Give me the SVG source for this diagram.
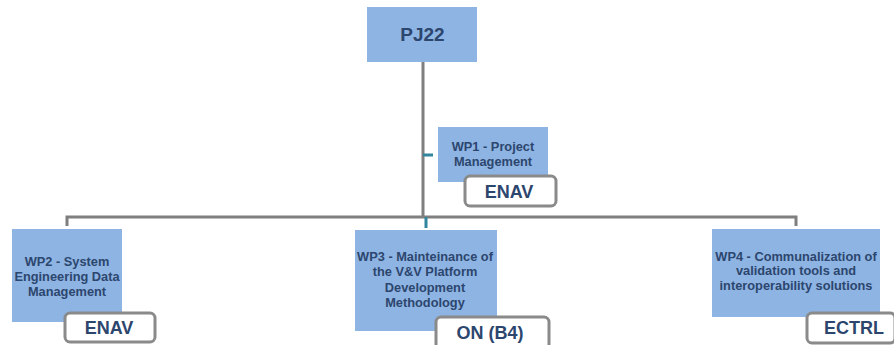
<svg xmlns="http://www.w3.org/2000/svg" width="894" height="345" viewBox="0 0 894 345">
<style>
.box{fill:#8eb4e3;stroke:none}
.tag{fill:#ffffff;stroke:#8a8a8a;stroke-width:3}
.t{font-family:"Liberation Sans",Arial,sans-serif;font-size:12.8px;font-weight:bold;fill:#2c466e;text-anchor:middle}
.tt{font-family:"Liberation Sans",Arial,sans-serif;font-size:18px;font-weight:bold;fill:#2c466e;text-anchor:middle}
.ln{stroke:#7f7f7f;stroke-width:3;fill:none}
.tk{stroke:#31859c;stroke-width:3;fill:none}
</style>
<rect width="894" height="345" fill="#ffffff"/>
<g id="connectors">
<path class="ln" d="M423,62 V217"/>
<path class="ln" d="M67,226 V217 H796 V226"/>
<path class="tk" d="M423,155 H433"/>
<path class="tk" d="M426,217 V228"/>
</g>
<g id="pj22">
<rect class="box" x="367" y="7" width="110" height="55"/>
<text class="tt" x="422.5" y="41" style="font-size:19px">PJ22</text>
</g>
<g id="wp1">
<rect class="box" x="438" y="127" width="110" height="55"/>
<text class="t" x="493" y="151">WP1 - Project</text>
<text class="t" x="493" y="166">Management</text>
<rect class="tag" x="465" y="176" width="91" height="30" rx="5"/>
<text class="tt" x="509" y="198">ENAV</text>
</g>
<g id="wp2">
<rect class="box" x="12" y="229" width="110" height="93"/>
<text class="t" x="67" y="266">WP2 - System</text>
<text class="t" x="67" y="281">Engineering Data</text>
<text class="t" x="67" y="296">Management</text>
<rect class="tag" x="65" y="313" width="90" height="29" rx="5"/>
<text class="tt" x="109" y="334">ENAV</text>
</g>
<g id="wp3">
<rect class="box" x="355" y="230" width="142" height="101"/>
<text class="t" x="425" y="261">WP3 - Mainteinance of</text>
<text class="t" x="425" y="276">the V&amp;V Platform</text>
<text class="t" x="425" y="292">Development</text>
<text class="t" x="425" y="307">Methodology</text>
<rect class="tag" x="436" y="317" width="113" height="32" rx="5"/>
<text class="tt" x="490" y="339">ON (B4)</text>
</g>
<g id="wp4">
<rect class="box" x="712" y="229" width="168" height="88"/>
<text class="t" x="796" y="261">WP4 - Communalization of</text>
<text class="t" x="796" y="275">validation tools and</text>
<text class="t" x="796" y="290">interoperability solutions</text>
<rect class="tag" x="807" y="313" width="88" height="30" rx="5"/>
<text class="tt" x="854" y="334">ECTRL</text>
</g>
</svg>
